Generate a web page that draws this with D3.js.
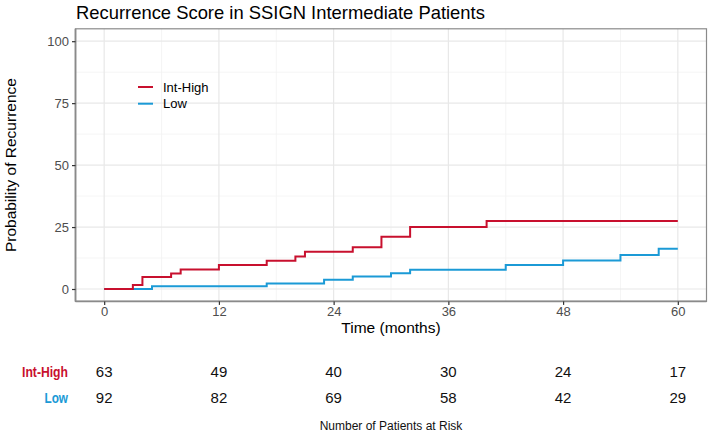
<!DOCTYPE html>
<html>
<head>
<meta charset="utf-8">
<script src="https://cdn.jsdelivr.net/npm/d3@7"></script>
<style>
  html, body { margin: 0; padding: 0; background: #fff; }
  text { font-family: "Liberation Sans", Arial, Helvetica, sans-serif; }
</style>
</head>
<body>
<svg id="chart" width="709" height="433"></svg>
<script>
// ---- data ----
const seriesNames = ["Int-High", "Low"];
const timesHigh = [0, 3, 4, 7, 8, 12, 17, 20, 21, 26, 29, 32, 40, 60];
const valuesHigh = [0, 1.6, 4.8, 6.3, 7.9, 9.7, 11.4, 13.1, 15.0, 16.9, 21.1, 25.0, 27.4, 27.4];
const timesLow = [0, 5, 17, 23, 26, 30, 32, 42, 48, 54, 58, 60];
const valuesLow = [0, 1.1, 2.2, 3.7, 5.0, 6.4, 7.8, 9.7, 11.5, 13.7, 16.2, 16.2];
const xTicks = [0, 12, 24, 36, 48, 60];
const yTicks = [0, 25, 50, 75, 100];
const riskTimes = [0, 12, 24, 36, 48, 60];
const riskHigh = [63, 49, 40, 30, 24, 17];
const riskLow = [92, 82, 69, 58, 42, 29];

const colors = { "Int-High": "#C8102E", "Low": "#1B9AD6" };

const svg = d3.select("#chart");
const L = 75.5, R = 706.5, T = 28.8, B = 301.4;

const x = d3.scaleLinear().domain([-3, 63]).range([L, R]);
const y = d3.scaleLinear().domain([-5, 105]).range([B, T]);

// grid
const g = svg.append("g");
const minorX = d3.range(6, 60, 12);
const minorY = [12.5, 37.5, 62.5, 87.5];
g.selectAll(".minx").data(minorX).join("line")
  .attr("x1", d => x(d)).attr("x2", d => x(d)).attr("y1", T).attr("y2", B)
  .attr("stroke", "#f3f3f3").attr("stroke-width", 0.8);
g.selectAll(".miny").data(minorY).join("line")
  .attr("x1", L).attr("x2", R).attr("y1", d => y(d)).attr("y2", d => y(d))
  .attr("stroke", "#f3f3f3").attr("stroke-width", 0.8);
g.selectAll(".majx").data(xTicks).join("line")
  .attr("x1", d => x(d)).attr("x2", d => x(d)).attr("y1", T).attr("y2", B)
  .attr("stroke", "#e8e8e8").attr("stroke-width", 1.2);
g.selectAll(".majy").data(yTicks).join("line")
  .attr("x1", L).attr("x2", R).attr("y1", d => y(d)).attr("y2", d => y(d))
  .attr("stroke", "#e8e8e8").attr("stroke-width", 1.2);

// curves
const line = d3.line().x(d => x(d[0])).y(d => y(d[1])).curve(d3.curveStepAfter);
const low = timesLow.map((t, i) => [t, valuesLow[i]]);
const high = timesHigh.map((t, i) => [t, valuesHigh[i]]);
svg.append("path").datum(low).attr("d", line).attr("fill", "none")
  .attr("stroke", colors["Low"]).attr("stroke-width", 2);
svg.append("path").datum(high).attr("d", line).attr("fill", "none")
  .attr("stroke", colors["Int-High"]).attr("stroke-width", 2);

// border
svg.append("rect").attr("x", L).attr("y", T).attr("width", R - L).attr("height", B - T)
  .attr("fill", "none").attr("stroke", "#8a8a8a").attr("stroke-width", 1.2);
svg.append("line").attr("x1", L).attr("x2", R).attr("y1", B).attr("y2", B)
  .attr("stroke", "#8a8a8a").attr("stroke-width", 1.8);
svg.append("line").attr("x1", L).attr("x2", L).attr("y1", T).attr("y2", B)
  .attr("stroke", "#8a8a8a").attr("stroke-width", 1.8);

// axes
const xAxis = svg.append("g").attr("transform", `translate(0,${B})`)
  .call(d3.axisBottom(x).tickValues(xTicks).tickSize(3.5).tickPadding(2));
xAxis.select(".domain").remove();
xAxis.selectAll("line").attr("stroke", "#333").attr("stroke-width", 1.2);
xAxis.selectAll("text").attr("fill", "#4d4d4d").style("font-size", "13px");

const yAxis = svg.append("g").attr("transform", `translate(${L},0)`)
  .call(d3.axisLeft(y).tickValues(yTicks).tickSize(3.5).tickPadding(3));
yAxis.select(".domain").remove();
yAxis.selectAll("line").attr("stroke", "#333").attr("stroke-width", 1.2);
yAxis.selectAll("text").attr("fill", "#4d4d4d").style("font-size", "13px");

// titles
svg.append("text").attr("x", L + 0.5).attr("y", 18.5).text("Recurrence Score in SSIGN Intermediate Patients")
  .style("font-size", "18.4px").attr("fill", "#000");
svg.append("text").attr("x", (L + R) / 2).attr("y", 333).attr("text-anchor", "middle")
  .text("Time (months)").style("font-size", "15.5px").attr("fill", "#000");
svg.append("text").attr("transform", `translate(15.5,${(T + B) / 2}) rotate(-90)`)
  .attr("text-anchor", "middle").text("Probability of Recurrence")
  .style("font-size", "15.5px").attr("fill", "#000");

// legend
const leg = svg.append("g");
seriesNames.forEach((n, i) => {
  const yy = 87 + i * 16.7;
  leg.append("line").attr("x1", 138).attr("x2", 153).attr("y1", yy).attr("y2", yy)
    .attr("stroke", colors[n]).attr("stroke-width", 2);
  leg.append("text").attr("x", 163).attr("y", yy + 4.5).text(n)
    .style("font-size", "13px").attr("fill", "#000");
});

// risk table
const rows = [["Int-High", riskHigh, 376.5, 46], ["Low", riskLow, 402.5, 23.5]];
rows.forEach(([n, vals, yy, tl]) => {
  svg.append("text").attr("x", 68).attr("y", yy).attr("text-anchor", "end").text(n)
    .attr("textLength", tl).attr("lengthAdjust", "spacingAndGlyphs")
    .style("font-weight", "bold").style("font-size", "14.5px").attr("fill", colors[n]);
  svg.selectAll(null).data(riskTimes).join("text")
    .attr("x", d => x(d)).attr("y", yy).attr("text-anchor", "middle")
    .text((d, i) => vals[i]).style("font-size", "15px").attr("fill", "#111");
});
svg.append("text").attr("x", (L + R) / 2).attr("y", 430).attr("text-anchor", "middle")
  .text("Number of Patients at Risk").style("font-size", "12px").attr("fill", "#111");
</script>
</body>
</html>
